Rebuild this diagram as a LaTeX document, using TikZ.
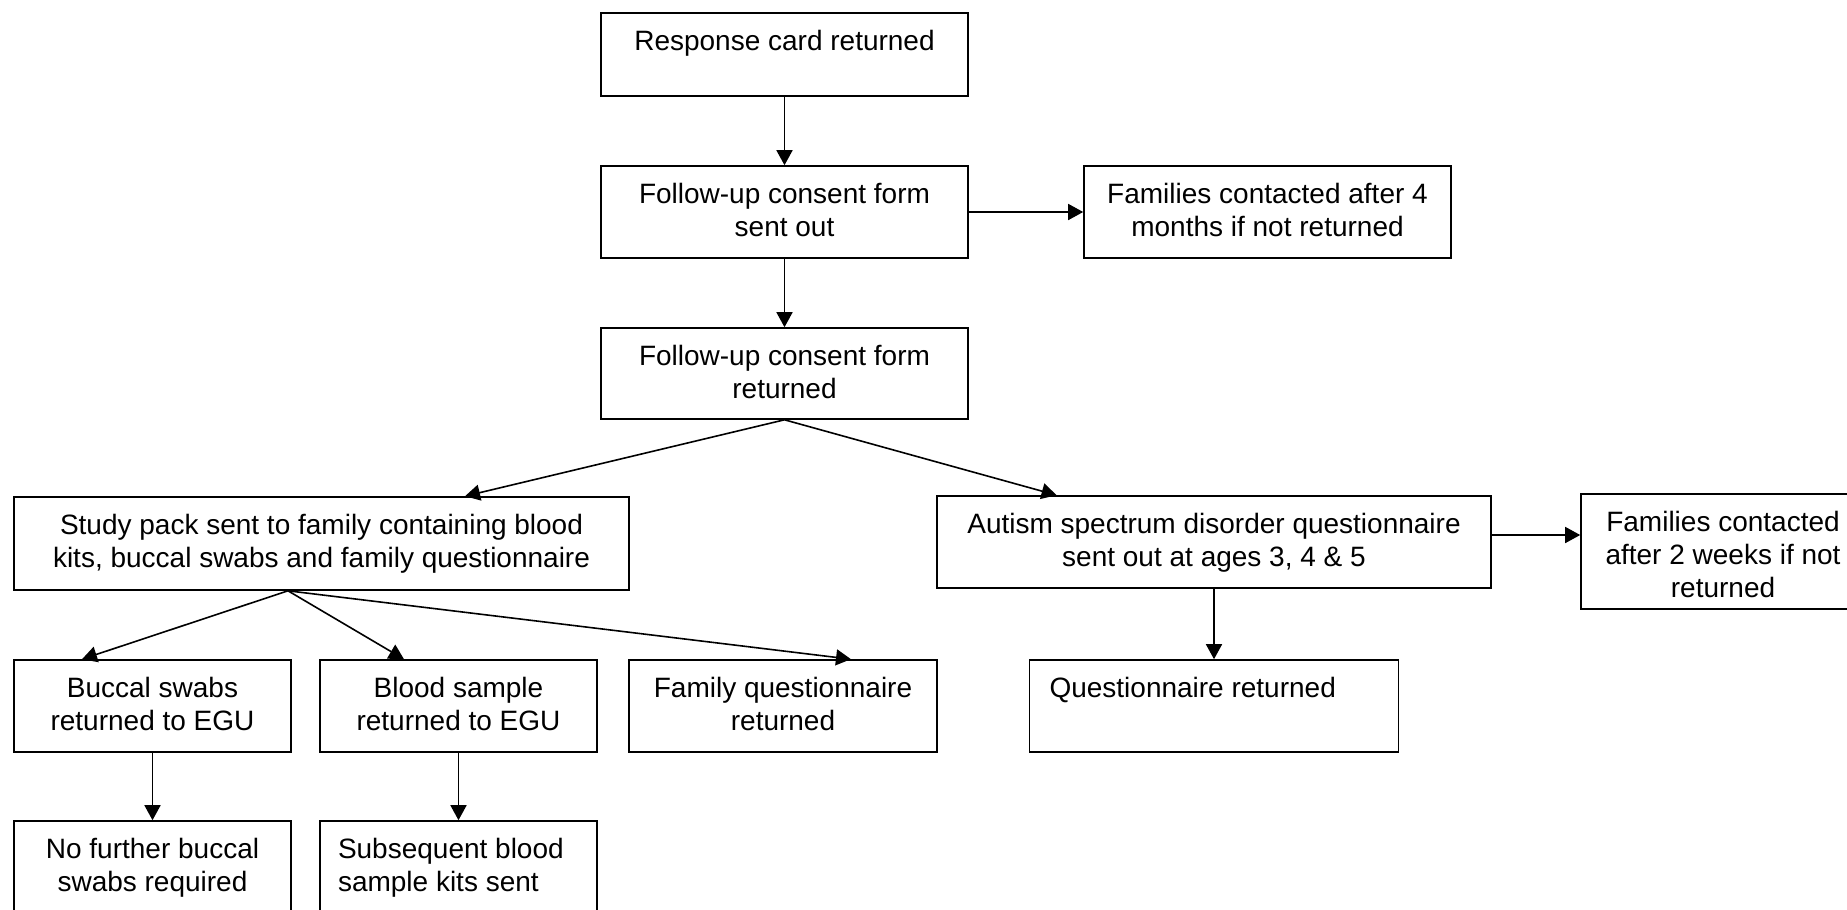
\documentclass[tikz,border=0pt]{standalone}
\usepackage{fontspec}
\setmainfont{Liberation Sans}
\usetikzlibrary{arrows.meta}
\newcommand{\boxc}[3]{\parbox[c][#2][t]{#1}{\centering\rule{0pt}{18.5pt}#3}}
\newcommand{\boxl}[4]{\parbox[c][#2][t]{#1}{\raggedright\leftskip=#3\rule{0pt}{18.5pt}#4}}
\begin{document}
\begin{tikzpicture}[x=0.5pt,y=-0.5pt,
  box/.style={draw, line width=0.8pt, inner sep=0pt, font=\fontsize{14pt}{16.7pt}\selectfont},
  arr/.style={line width=0.8pt, -{Triangle[length=7.5pt,width=8pt]}}]
\useasboundingbox (0,0) rectangle (1847,910);
\node[box] (resp) at (784.5,54.5) {\boxc{183.5pt}{41.5pt}{Response card returned}};
\node[box] (sent) at (784.5,212) {\boxc{183.5pt}{46pt}{Follow-up consent form\\sent out}};
\node[box] (fam4) at (1267.5,212) {\boxc{183.5pt}{46pt}{Families contacted after 4\\months if not returned}};
\node[box] (ret) at (784.5,373.5) {\boxc{183.5pt}{45.5pt}{Follow-up consent form\\returned}};
\node[box] (study) at (321.5,543.5) {\boxc{307.5pt}{46.5pt}{Study pack sent to family containing blood\\kits, buccal swabs and family questionnaire}};
\node[box] (autism) at (1214,542) {\boxc{277pt}{46pt}{Autism spectrum disorder questionnaire\\sent out at ages 3, 4 \& 5}};
\node[box] (fam2) at (1723,551.5) {\boxc{142pt}{57.5pt}{Families contacted\\after 2 weeks if not\\returned}};
\node[box] (buccal) at (152.5,706) {\boxc{138.5pt}{46pt}{Buccal swabs\\returned to EGU}};
\node[box] (blood) at (458.5,706) {\boxc{138.5pt}{46pt}{Blood sample\\returned to EGU}};
\node[box] (famq) at (783,706) {\boxc{154pt}{46pt}{Family questionnaire\\returned}};
\node[box] (qret) at (1214,706) {\boxl{184.5pt}{46pt}{10pt}{Questionnaire returned}};
\node[box] (nofur) at (152.5,867) {\boxc{138.5pt}{46pt}{No further buccal\\swabs required}};
\node[box] (subs) at (458.5,867) {\boxl{138.5pt}{46pt}{9pt}{Subsequent blood\\sample kits sent}};
\draw[arr] (resp.south) -- (sent.north);
\draw[arr] (sent.south) -- (ret.north);
\draw[arr] (sent.east) -- (fam4.west);
\draw[arr] (ret.south) -- ([xshift=71.75pt]study.north);
\draw[arr] (ret.south) -- ([xshift=-78.7pt]autism.north);
\draw[arr] ([xshift=-16.75pt]study.south) -- ([xshift=-35.25pt]buccal.north);
\draw[arr] ([xshift=-16.75pt]study.south) -- ([xshift=-27.25pt]blood.north);
\draw[arr] ([xshift=-16.75pt]study.south) -- ([xshift=34pt]famq.north);
\draw[arr] ([yshift=3.5pt]autism.east) -- ([yshift=3.5pt]autism.east -| fam2.west);
\draw[arr] (autism.south) -- (qret.north);
\draw[arr] (buccal.south) -- (nofur.north);
\draw[arr] (blood.south) -- (subs.north);
\end{tikzpicture}
\end{document}
